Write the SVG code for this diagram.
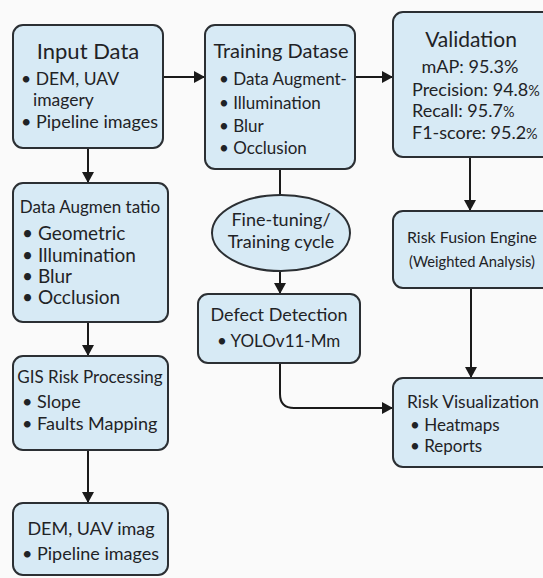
<svg xmlns="http://www.w3.org/2000/svg" width="543" height="578" viewBox="0 0 543 578">
<style>
.box{fill:#d7eaf5;stroke:#2b2f33;stroke-width:2}
.t{font-family:Lato,"Open Sans","Liberation Sans",sans-serif;fill:#1f2326}
.c{text-anchor:middle}
.conn{fill:none;stroke:#1a1a1a;stroke-width:2}
.sm{font-size:0.8em}
</style>
<defs>
<marker id="ah" markerUnits="userSpaceOnUse" markerWidth="12" markerHeight="12" refX="11" refY="6" orient="auto">
<path d="M0,0 L11,6 L0,12 z" fill="#1a1a1a"/>
</marker>
</defs>
<rect width="543" height="578" fill="#fafafa"/>
<g id="connectors">
<path class="conn" d="M163,77 H205" marker-end="url(#ah)"/>
<path class="conn" d="M355,77 H393" marker-end="url(#ah)"/>
<path class="conn" d="M88,148 V183" marker-end="url(#ah)"/>
<path class="conn" d="M88,322 V356" marker-end="url(#ah)"/>
<path class="conn" d="M88,450 V503" marker-end="url(#ah)"/>
<path class="conn" d="M280,169 V195"/>
<path class="conn" d="M280,271 V294" marker-end="url(#ah)"/>
<path class="conn" d="M280,363 V394 Q280,408 294,408 H393" marker-end="url(#ah)"/>
<path class="conn" d="M470,157 V211" marker-end="url(#ah)"/>
<path class="conn" d="M471,288 V378" marker-end="url(#ah)"/>
</g>
<g id="input-data">
<rect class="box" x="13" y="25" width="150" height="123" rx="10"/>
<text class="t c" x="88" y="59" font-size="22">Input Data</text>
<text class="t" x="21" y="85" font-size="17.5">• DEM, UAV</text>
<text class="t" x="33" y="106" font-size="17.5">imagery</text>
<text class="t" x="21" y="128" font-size="18">• Pipeline images</text>
</g>
<g id="training-dataset">
<rect class="box" x="205" y="25" width="150" height="144" rx="10"/>
<text class="t c" x="281" y="58" font-size="20">Training Datase</text>
<text class="t" x="219" y="85" font-size="17">• Data Augment-</text>
<text class="t" x="219" y="109" font-size="17">• Illumination</text>
<text class="t" x="219" y="132" font-size="17">• Blur</text>
<text class="t" x="219" y="154" font-size="17">• Occlusion</text>
</g>
<g id="validation">
<rect class="box" x="393" y="12" width="165" height="145" rx="10"/>
<text class="t c" x="471" y="47" font-size="21">Validation</text>
<text class="t c" x="470" y="73" font-size="18">mAP: 95.3%</text>
<text class="t" x="412" y="96" font-size="18">Precision: 94.8<tspan class="sm">%</tspan></text>
<text class="t" x="412" y="117" font-size="18">Recall: 95.7<tspan class="sm">%</tspan></text>
<text class="t" x="412" y="139" font-size="18">F1-score: 95.2<tspan class="sm">%</tspan></text>
</g>
<g id="data-augmentation">
<rect class="box" x="13" y="183" width="155" height="139" rx="10"/>
<text class="t c" x="90" y="213" font-size="17">Data Augmen tatio</text>
<text class="t" x="22" y="240" font-size="19">• Geometric</text>
<text class="t" x="22" y="262" font-size="19">• Illumination</text>
<text class="t" x="22" y="283" font-size="19">• Blur</text>
<text class="t" x="22" y="304" font-size="19">• Occlusion</text>
</g>
<g id="gis-risk">
<rect class="box" x="13" y="356" width="155" height="94" rx="10"/>
<text class="t c" x="90" y="383" font-size="17">GIS Risk Processing</text>
<text class="t" x="22" y="408" font-size="18">• Slope</text>
<text class="t" x="22" y="430" font-size="18">• Faults Mapping</text>
</g>
<g id="dem-uav">
<rect class="box" x="13" y="503" width="155" height="72" rx="10"/>
<text class="t c" x="91" y="535" font-size="18">DEM, UAV imag</text>
<text class="t" x="22" y="560" font-size="18">• Pipeline images</text>
</g>
<g id="fine-tuning">
<ellipse class="box" cx="281" cy="233" rx="69" ry="38"/>
<text class="t c" x="281" y="226" font-size="18">Fine-tuning/</text>
<text class="t c" x="281" y="248" font-size="18">Training cycle</text>
</g>
<g id="defect-detection">
<rect class="box" x="198" y="294" width="162" height="69" rx="10"/>
<text class="t c" x="279" y="321" font-size="18">Defect Detection</text>
<text class="t" x="217" y="347" font-size="17">• YOLOv11-Mm</text>
</g>
<g id="risk-fusion">
<rect class="box" x="393" y="211" width="165" height="77" rx="10"/>
<text class="t" x="407" y="243" font-size="16" textLength="130" lengthAdjust="spacingAndGlyphs">Risk Fusion Engine</text>
<text class="t" x="409" y="267" font-size="15" textLength="126" lengthAdjust="spacingAndGlyphs">(Weighted Analysis)</text>
</g>
<g id="risk-visualization">
<rect class="box" x="393" y="378" width="165" height="89" rx="10"/>
<text class="t" x="407" y="408" font-size="18" textLength="132" lengthAdjust="spacingAndGlyphs">Risk Visualization</text>
<text class="t" x="410" y="431" font-size="17">• Heatmaps</text>
<text class="t" x="410" y="452" font-size="17">• Reports</text>
</g>
</svg>
